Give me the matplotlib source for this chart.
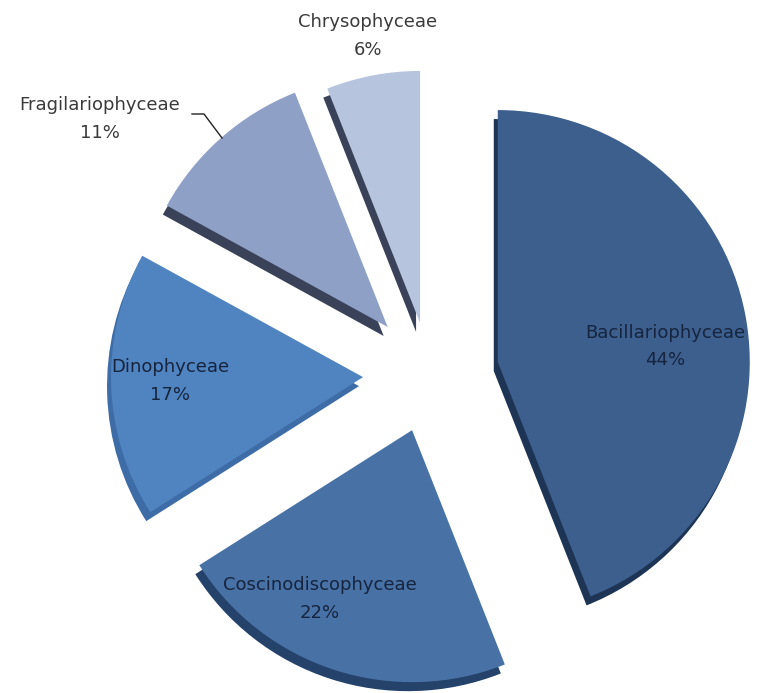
import numpy as np
import matplotlib.pyplot as plt

# data
classes = ['Bacillariophyceae', 'Coscinodiscophyceae', 'Dinophyceae',
           'Fragilariophyceae', 'Chrysophyceae']
percent = [44, 22, 17, 11, 6]
explode = [69, 58, 67, 64, 53]  # in pixels, since radius is in pixels too

top_colors = ['#3c5f8e', '#4872a6', '#5084c0', '#8ea0c6', '#b6c4de']
side_colors = ['#1e3454', '#25426a', '#3e6ca6', '#3a4259', '#3a4259']

W, H = 757, 693
def py(y):
    # picture rows run downwards, axes run upwards
    return H - y

fig = plt.figure(figsize=(W / 100, H / 100), dpi=100)
ax = fig.add_axes([0, 0, 1, 1])

cx, cy, r = 430, 375, 252

# the "3d" side, a darker copy shifted down-left
ax.pie(percent, explode=explode, radius=r, center=(cx - 4, py(cy) - 9),
       startangle=90, counterclock=False, colors=side_colors,
       wedgeprops=dict(linewidth=0))
# top face
ax.pie(percent, explode=explode, radius=r, center=(cx, py(cy)),
       startangle=90, counterclock=False, colors=top_colors,
       wedgeprops=dict(linewidth=0))

ax.set_xlim(0, W)
ax.set_ylim(0, H)
ax.set_aspect('equal')
ax.axis('off')

# labels
inside = '#16243e'
outside = '#3a3a3a'
fs = 13
lab = [(665, 333, 360, inside),
       (320, 585, 613, inside),
       (170, 367, 395, inside),
       (100, 105, 133, outside),
       (368, 22, 50, outside)]
for name, p, (x, y1, y2, c) in zip(classes, percent, lab):
    ax.text(x, py(y1), name, ha='center', va='center', fontsize=fs, color=c)
    ax.text(x, py(y2), '%d%%' % p, ha='center', va='center', fontsize=fs, color=c)

# leader line for Fragilariophyceae
ax.plot([192, 204, 222], [py(114), py(114), py(138)], color='#222222', lw=1)

fig.savefig('out.png', dpi=100)
